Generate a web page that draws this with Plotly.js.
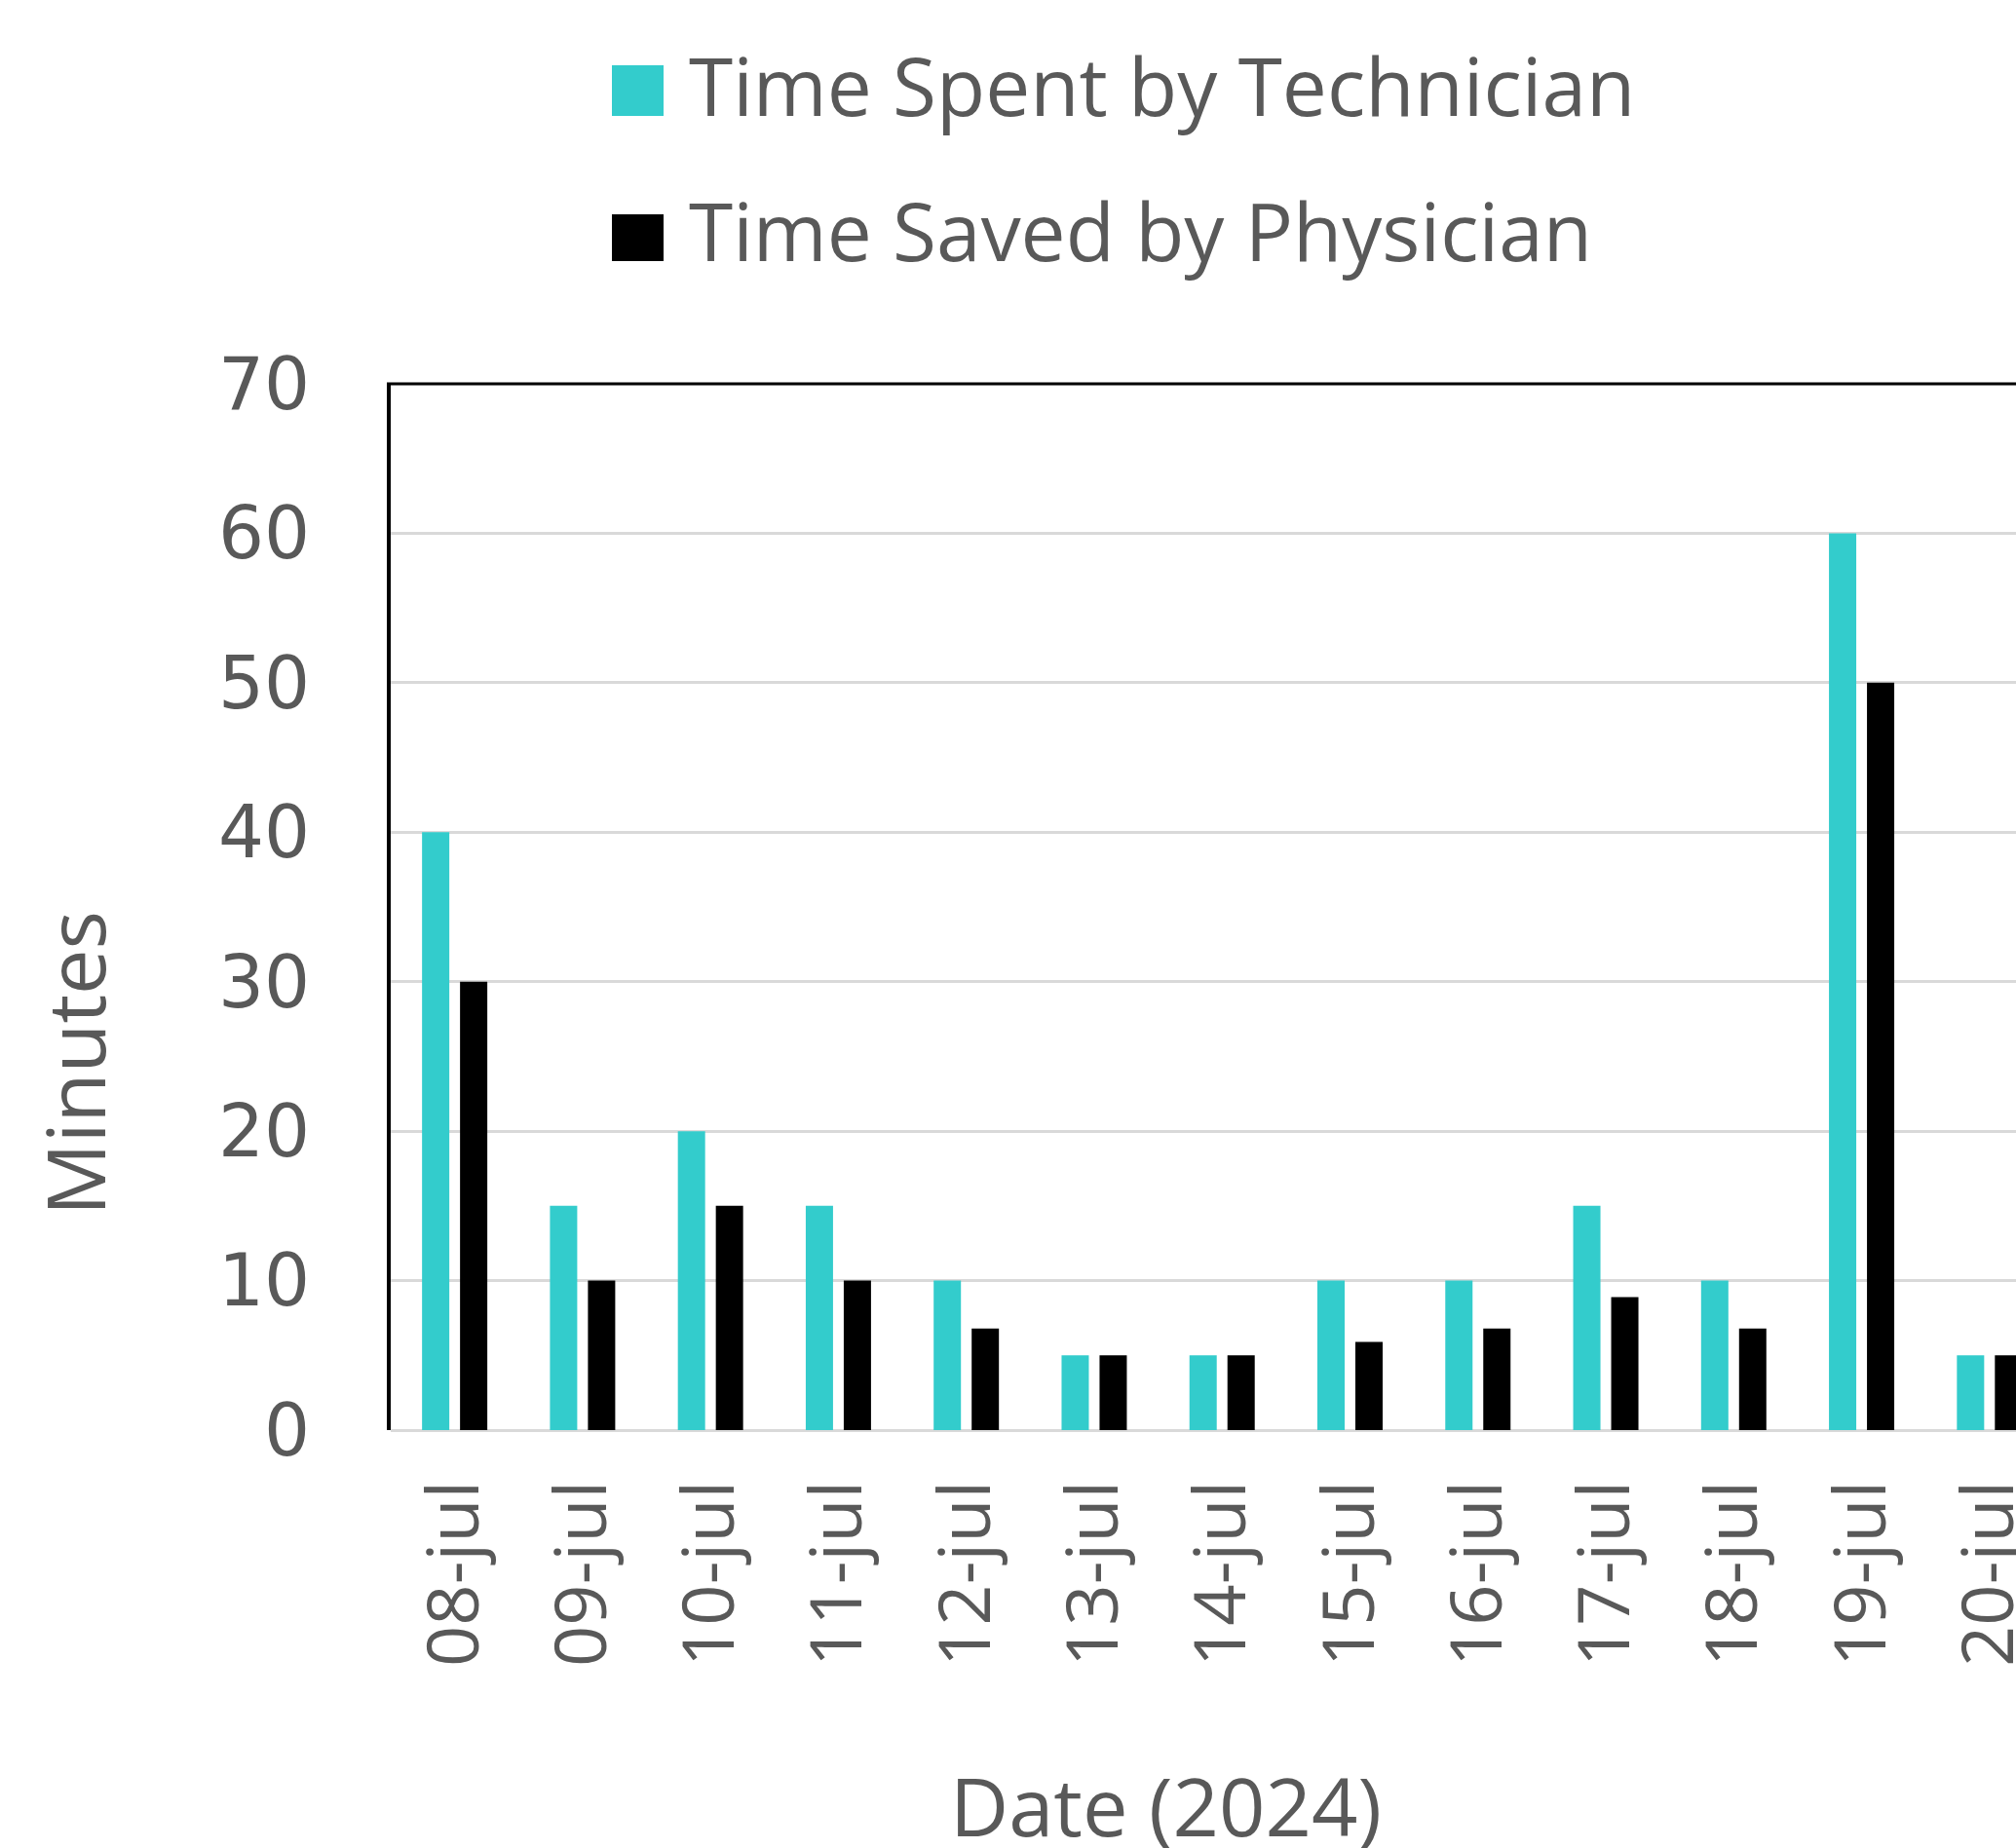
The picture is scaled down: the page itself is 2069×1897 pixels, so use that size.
<!DOCTYPE html>
<html>
<head>
<meta charset="utf-8">
<script src="https://cdn.plot.ly/plotly-3.0.1.min.js"></script>
<style>
  html, body { margin: 0; padding: 0; background: #ffffff; overflow: hidden; }
  #chart { width: 2069px; height: 1897px; }
</style>
</head>
<body>
<div id="chart"></div>
<script>
// ---- data ----
const dates = ['08-jul','09-jul','10-jul','11-jul','12-jul','13-jul','14-jul','15-jul','16-jul','17-jul','18-jul','19-jul','20-jul'];
const technicianMinutes = [40, 15, 20, 15, 10, 5, 5, 10, 10, 15, 10, 60, 5];
const physicianMinutes  = [30, 10, 15, 10, 6.8, 5, 5, 5.9, 6.8, 8.9, 6.8, 50, 5];
const seriesNames = ['Time Spent by Technician', 'Time Saved by Physician'];
const yTicks = [0, 10, 20, 30, 40, 50, 60, 70];
const xTitle = 'Date (2024)';
const yTitle = 'Minutes';

// ---- layout geometry (pixels) ----
const W = 2069, H = 1897;
const ML = 401, MR = 0, MT = 394, MB = 429;
const PW = W - ML - MR, PH = H - MT - MB;
const px2x = p => (p - ML) / PW;          // page px -> paper x
const py2y = p => (H - MB - p) / PH;      // page px -> paper y

const CYAN = '#33CCCC', BLACK = '#000000', TEXT = '#595959', GRID = '#D9D9D9';

const traces = [
  { type: 'bar', name: seriesNames[0], x: dates, y: technicianMinutes,
    marker: { color: CYAN, line: { width: 0 } }, hoverinfo: 'x+y+name' },
  { type: 'bar', name: seriesNames[1], x: dates, y: physicianMinutes,
    marker: { color: BLACK, line: { width: 0 } }, hoverinfo: 'x+y+name' }
];

const legendFont = { family: 'Open Sans, sans-serif', size: 82, color: TEXT };
const titleFont = { family: 'Open Sans, sans-serif', size: 83, color: TEXT };

const layout = {
  width: W, height: H, autosize: false,
  margin: { l: ML, r: MR, t: MT, b: MB, pad: 0 },
  paper_bgcolor: '#ffffff', plot_bgcolor: '#ffffff',
  showlegend: false,
  barmode: 'group', bargap: 0.406, bargroupgap: 0.282,
  xaxis: {
    type: 'category', range: [-0.5, 12.207],
    showgrid: false, showline: false, zeroline: false,
    ticks: '', tickangle: -90, ticklabelstandoff: 36,
    tickfont: { family: 'Open Sans, sans-serif', size: 74, color: TEXT },
    fixedrange: true
  },
  yaxis: {
    range: [0, 70], tickvals: yTicks, ticktext: yTicks.map(String),
    showgrid: true, gridcolor: GRID, gridwidth: 3,
    zeroline: true, zerolinecolor: GRID, zerolinewidth: 3,
    showline: true, linecolor: BLACK, linewidth: 4,
    ticks: '', ticklabelstandoff: 64,
    tickfont: { family: 'DejaVu Sans, sans-serif', size: 74, color: TEXT },
    fixedrange: true
  },
  shapes: [
    { type: 'line', xref: 'paper', yref: 'paper', x0: px2x(397), x1: 1.01, y0: 1, y1: 1,
      line: { color: BLACK, width: 3 } },
    { type: 'rect', xref: 'paper', yref: 'paper', x0: px2x(628), x1: px2x(681), y0: py2y(119), y1: py2y(67),
      fillcolor: CYAN, line: { width: 0 } },
    { type: 'rect', xref: 'paper', yref: 'paper', x0: px2x(628), x1: px2x(681), y0: py2y(268), y1: py2y(220),
      fillcolor: BLACK, line: { width: 0 } }
  ],
  annotations: [
    { text: seriesNames[0], xref: 'paper', yref: 'paper', x: px2x(705), y: py2y(87),
      xanchor: 'left', yanchor: 'middle', showarrow: false, font: legendFont },
    { text: seriesNames[1], xref: 'paper', yref: 'paper', x: px2x(705), y: py2y(236),
      xanchor: 'left', yanchor: 'middle', showarrow: false, font: legendFont },
    { text: yTitle, xref: 'paper', yref: 'paper', x: px2x(75), y: py2y(1092),
      xanchor: 'center', yanchor: 'middle', textangle: -90, showarrow: false, font: titleFont },
    { text: xTitle, xref: 'paper', yref: 'paper', x: px2x(1196), y: py2y(1852),
      xanchor: 'center', yanchor: 'middle', showarrow: false, font: titleFont }
  ]
};

Plotly.newPlot('chart', traces, layout, { displayModeBar: false, staticPlot: true });
</script>
</body>
</html>
